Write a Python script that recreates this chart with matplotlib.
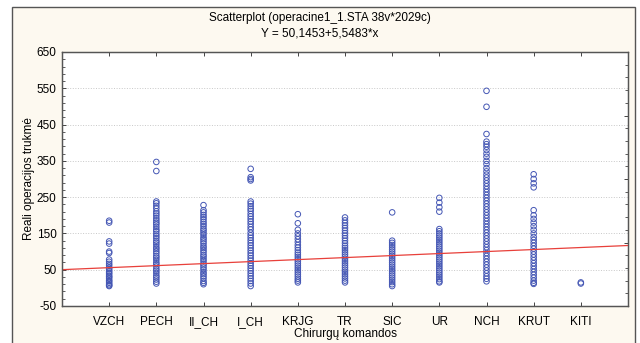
import numpy as np
import matplotlib
matplotlib.use("Agg")
import matplotlib.pyplot as plt
from matplotlib.patches import Rectangle
from matplotlib.ticker import FixedLocator

plt.rcParams['font.family'] = ['Liberation Sans', 'DejaVu Sans']
plt.rcParams['axes.unicode_minus'] = False

categories = ["VZCH", "PECH", "II_CH", "I_CH", "KRJG", "TR", "SIC", "UR", "NCH", "KRUT", "KITI"]

VZCH = [185, 180, 128, 122, 100, 96, 78, 72, 66, 61, 55, 51, 46, 42, 38, 33, 30, 26, 21, 18, 14, 10, 7, 5]
PECH = [347, 322, 238, 233, 226, 219, 211, 205, 199, 192, 186, 180, 175, 168, 161, 156, 149, 143, 137, 130,
        125, 119, 112, 107, 101, 95, 88, 83, 77, 70, 65, 59, 52, 47, 41, 34, 29, 23, 17, 12]
II_CH = [228, 214, 208, 201, 195, 189, 182, 176, 170, 163, 158, 152, 146, 139, 134, 128, 122, 115, 110, 104,
         98, 91, 86, 80, 74, 67, 62, 56, 50, 43, 38, 32, 26, 19, 14, 10]
I_CH = [328, 305, 300, 296, 238, 232, 225, 218, 212, 204, 197, 190, 183, 176, 168, 161, 152, 145, 138, 131,
        124, 117, 110, 103, 96, 89, 82, 75, 68, 61, 54, 47, 40, 33, 26, 19, 12, 5]
KRJG = [203, 178, 160, 150, 142, 134, 126, 118, 111, 104, 97, 91, 85, 79, 73, 67, 61, 55, 49, 43, 37, 31, 25, 20, 15]
TR = [194, 186, 179, 172, 165, 158, 151, 144, 137, 130, 123, 116, 110, 104, 98, 92, 86, 80, 74, 68,
      62, 56, 50, 44, 38, 32, 26, 20, 15]
SIC = [208, 130, 124, 118, 112, 106, 100, 94, 88, 82, 76, 70, 64, 58, 52, 46, 40, 34, 28, 22, 16, 10, 5]
UR = [248, 235, 222, 210, 162, 156, 150, 144, 138, 132, 126, 120, 114, 108, 102, 96, 90, 84, 78, 72,
      66, 60, 54, 48, 42, 36, 30, 24, 18, 15]
NCH = [543, 499, 424, 403, 396, 389, 380, 370, 361, 350, 341, 330, 321, 312, 304, 296, 288, 280, 272, 264,
       256, 248, 240, 232, 224, 216, 208, 200, 192, 184, 176, 168, 160, 152, 144, 136, 128, 120, 112, 104,
       96, 88, 80, 72, 64, 56, 48, 40, 32, 25, 18]
KRUT = [313, 300, 288, 277, 214, 200, 190, 180, 170, 160, 150, 140, 132, 124, 116, 108, 100, 92, 84, 76,
        68, 60, 52, 44, 36, 28, 20, 14, 11]
KITI = [15, 12]

series = [VZCH, PECH, II_CH, I_CH, KRJG, TR, SIC, UR, NCH, KRUT, KITI]

intercept = 50.1453
slope = 5.5483

fig = plt.figure(figsize=(6.4, 3.43), dpi=100, facecolor="white")
frame = Rectangle((12 / 640, -0.01), 623 / 640, 1.01 - 7 / 343, transform=fig.transFigure,
                  facecolor="#fdf9f0", edgecolor="#555555", linewidth=1.0, zorder=-5)
fig.add_artist(frame)

ax = fig.add_axes([62 / 640, 1 - 306 / 343, 566 / 640, 254 / 343])
ax.set_facecolor("white")

for i, vals in enumerate(series):
    ax.scatter(np.full(len(vals), i + 1), vals, s=16, facecolors="none",
               edgecolors="#4456b4", linewidths=0.7, zorder=3)

xs = np.array([0, 12])
ax.plot(xs, intercept + slope * xs, color="#e8403a", linewidth=0.9, zorder=4)

ax.set_xlim(0, 12)
ax.set_ylim(-50, 650)

ax.set_xticks(range(1, 12))
ax.set_xticklabels(categories)
ax.xaxis.set_minor_locator(FixedLocator([2, 4, 6, 8, 10]))
ax.set_yticks(np.arange(-50, 651, 100))
ax.yaxis.set_minor_locator(FixedLocator(np.arange(-50, 651, 20)))

ax.tick_params(axis="both", which="major", direction="in", length=3, width=0.7, colors="#444444",
               labelcolor="black", labelsize=8.5, top=True)
ax.tick_params(axis="x", which="minor", length=0)
ax.tick_params(axis="y", which="minor", direction="in", length=2, width=0.6, colors="#444444")
ax.tick_params(axis="x", pad=7)
ax.tick_params(axis="y", pad=4)

ax.grid(True, axis="y", which="major", linestyle=":", color="#c8c8c8", linewidth=0.7)
ax.grid(True, axis="x", which="minor", linestyle=":", color="#c8c8c8", linewidth=0.7)

ax2 = ax.twinx()
ax2.set_ylim(0, 4)
ax2.set_yticks([0, 1, 2, 3, 4])
ax2.yaxis.set_minor_locator(FixedLocator(np.arange(0, 4.01, 0.2)))
ax2.set_yticklabels([])
ax2.tick_params(axis="y", which="major", direction="in", length=3, width=0.7, colors="#444444")
ax2.tick_params(axis="y", which="minor", direction="in", length=2, width=0.6, colors="#444444")

for a in (ax, ax2):
    for sp in a.spines.values():
        sp.set_color("#555555")
        sp.set_linewidth(0.9)

ax.set_xlabel("Chirurgų komandos", fontsize=8.5, labelpad=0)
ax.set_ylabel("Reali operacijos trukmė", fontsize=8.5, labelpad=1)

fig.text(0.5, 1 - 18 / 343, "Scatterplot (operacine1_1.STA 38v*2029c)", ha="center", va="center", fontsize=8.5)
fig.text(0.5, 1 - 33 / 343, "Y = 50,1453+5,5483*x", ha="center", va="center", fontsize=8.5)

fig.savefig("out.png", dpi=100, facecolor=fig.get_facecolor())
